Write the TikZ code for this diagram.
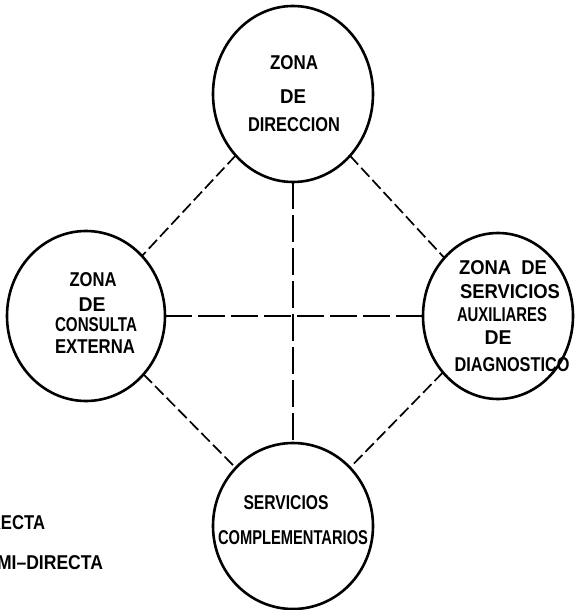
\documentclass[tikz,border=0pt]{standalone}
\usepackage{fontspec}
\setmainfont{Liberation Sans}
\usetikzlibrary{shapes.geometric}
\newsavebox\fitbox
\newcommand\fitw[2]{\sbox\fitbox{#2}\pgfmathsetmacro\fitfac{#1/\wd\fitbox}\scalebox{\fitfac}[1]{\usebox\fitbox}}
\tikzset{
  zone/.style={ellipse, draw, line width=2.6pt, inner sep=0pt, outer sep=0pt},
  lbl/.style={inner sep=0pt, outer sep=0pt, font=\fontsize{20}{22}\selectfont\bfseries},
  semi/.style={line width=1.7pt, dash pattern=on 12pt off 4.5pt},
  direct/.style={line width=2.6pt, dash pattern=on 27pt off 6pt},
}
\begin{document}
\begin{tikzpicture}[x=1pt, y=-1pt]
\useasboundingbox (0,0) rectangle (574,610);
% zones
\node[zone, minimum width=160pt, minimum height=176pt] (top) at (293,94) {};
\node[zone, minimum width=158pt, minimum height=170pt] (lft) at (86,316) {};
\node[zone, minimum width=150pt, minimum height=166pt] (rgt) at (498,316) {};
\node[zone, minimum width=160pt, minimum height=166pt] (bot) at (293,526) {};
% connectors
\draw[semi] (top) -- (lft);
\draw[semi] (top) -- (rgt);
\draw[semi] (lft) -- (bot);
\draw[semi] (rgt) -- (bot);
\draw[direct] (top) -- (bot);
\draw[direct] (lft) -- (rgt);
% texts top
\node[lbl] (t1) at (294,63) {\fitw{48}{ZONA}};
\node[lbl] (t2) at (293,97) {\fitw{26}{DE}};
\node[lbl] (t3) at (294,125) {\fitw{92}{DIRECCION}};
% texts left
\node[lbl] (l1) at (93,280) {\fitw{47}{ZONA}};
\node[lbl] (l2) at (92,305) {\fitw{27}{DE}};
\node[lbl] (l3) at (96,325) {\fitw{82}{CONSULTA}};
\node[lbl] (l4) at (95,347) {\fitw{80}{EXTERNA}};
% texts right
\node[lbl] (r1) at (503,268) {\fitw{88}{ZONA\ \ DE}};
\node[lbl] (r2) at (510,292) {\fitw{100}{SERVICIOS}};
\node[lbl] (r3) at (502,315) {\fitw{90}{AUXILIARES}};
\node[lbl] (r4) at (498,338) {\fitw{27}{DE}};
\node[lbl] (r5) at (512,365) {\fitw{115}{DIAGNOSTICO}};
% texts bottom
\node[lbl] (b1) at (286,503) {\fitw{85}{SERVICIOS}};
\node[lbl] (b2) at (293,538) {\fitw{150}{COMPLEMENTARIOS}};
% legend
\node[lbl, anchor=east] (g1) at (45,523) {\fitw{56}{RECTA}};
\node[lbl, anchor=east] (g2) at (103,563) {\fitw{106}{MI–DIRECTA}};
\end{tikzpicture}
\end{document}
